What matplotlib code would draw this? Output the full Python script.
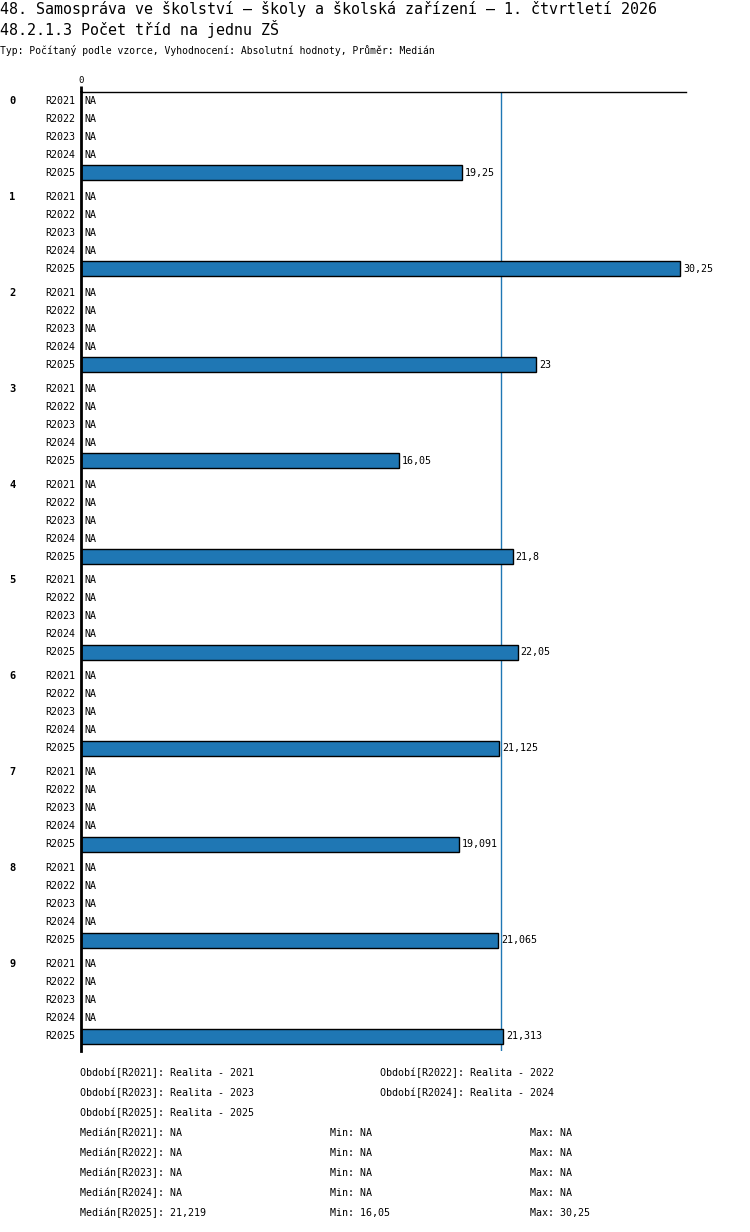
import matplotlib
matplotlib.use("Agg")
import matplotlib.pyplot as plt
import numpy as np

W, H = 750, 1232

title1 = "48. Samospráva ve školství – školy a školská zařízení – 1. čtvrtletí 2026"
title2 = "48.2.1.3 Počet tříd na jednu ZŠ"
subtitle = "Typ: Počítaný podle vzorce, Vyhodnocení: Absolutní hodnoty, Průměr: Medián"

groups = ["0", "1", "2", "3", "4", "5", "6", "7", "8", "9"]
periods = ["R2021", "R2022", "R2023", "R2024", "R2025"]
period_names = ["Realita - 2021", "Realita - 2022", "Realita - 2023", "Realita - 2024", "Realita - 2025"]
# only R2025 has values, the older periods are NA
values = {
    "R2021": [None] * 10,
    "R2022": [None] * 10,
    "R2023": [None] * 10,
    "R2024": [None] * 10,
    "R2025": [19.25, 30.25, 23, 16.05, 21.8, 22.05, 21.125, 19.091, 21.065, 21.313],
}

BLUE = "#1f77b4"
FONT = "DejaVu Sans Mono"
plt.rcParams["font.family"] = [FONT, "DejaVu Sans"]


def fmt(v):
    return f"{v:g}".replace(".", ",")


def ftext(x, y, s, **kw):
    fig.text(x / W, 1 - y / H, s, va="center", **kw)


fig = plt.figure(figsize=(W / 100, H / 100), dpi=100)
ax = fig.add_axes([81 / W, 1 - 1051 / H, (686 - 81) / W, (1051 - 92) / H])

row_step, group_step = 18, 96
for g, grp in enumerate(groups):
    for r, p in enumerate(periods):
        y = g * group_step + r * row_step
        v = values[p][g]
        if v is None:
            ax.text(0.15, y, "NA", va="center", ha="left", fontsize=7.2)
        else:
            ax.barh(y, v, height=15, color=BLUE, edgecolor="black", linewidth=1)
            ax.text(v + 0.15, y, fmt(v), va="center", ha="left", fontsize=7.2)
        ax.text(-0.3, y, p, va="center", ha="right", fontsize=7.2)
    ax.text(-3.3, g * group_step, grp, va="center", ha="right", fontsize=7.5, fontweight="bold")

med = np.median(values["R2025"])
ax.axvline(med, color=BLUE, linewidth=1, zorder=0.5)

ax.set_xlim(0, (686 - 81) / 19.8)
ax.set_ylim(951, -9)
for s in ["right", "bottom"]:
    ax.spines[s].set_visible(False)
ax.spines["left"].set_linewidth(2)
ax.spines["top"].set_linewidth(1)
ax.set_yticks([])
ax.xaxis.tick_top()
ax.set_xticks([0])
ax.set_xticklabels(["0"], fontsize=6.5)
ax.tick_params(axis="x", length=4, width=2, pad=1)

ftext(0, 9, title1, fontsize=10.8)
ftext(0, 29, title2, fontsize=10.8)
ftext(0, 50, subtitle, fontsize=7.0)

# footer legend
for i, (p, n) in enumerate(zip(periods, period_names)):
    x = 80 if i % 2 == 0 else 380
    y = 1073 + (i // 2) * 20
    ftext(x, y, f"Období[{p}]: {n}", fontsize=7.2)

for i, p in enumerate(periods):
    vals = [v for v in values[p] if v is not None]
    y = 1133 + i * 20
    if vals:
        m, lo, hi = fmt(round(np.median(vals), 3)), fmt(min(vals)), fmt(max(vals))
    else:
        m = lo = hi = "NA"
    ftext(80, y, f"Medián[{p}]: {m}", fontsize=7.2)
    ftext(330, y, f"Min: {lo}", fontsize=7.2)
    ftext(530, y, f"Max: {hi}", fontsize=7.2)

fig.savefig("out.png", dpi=100)
